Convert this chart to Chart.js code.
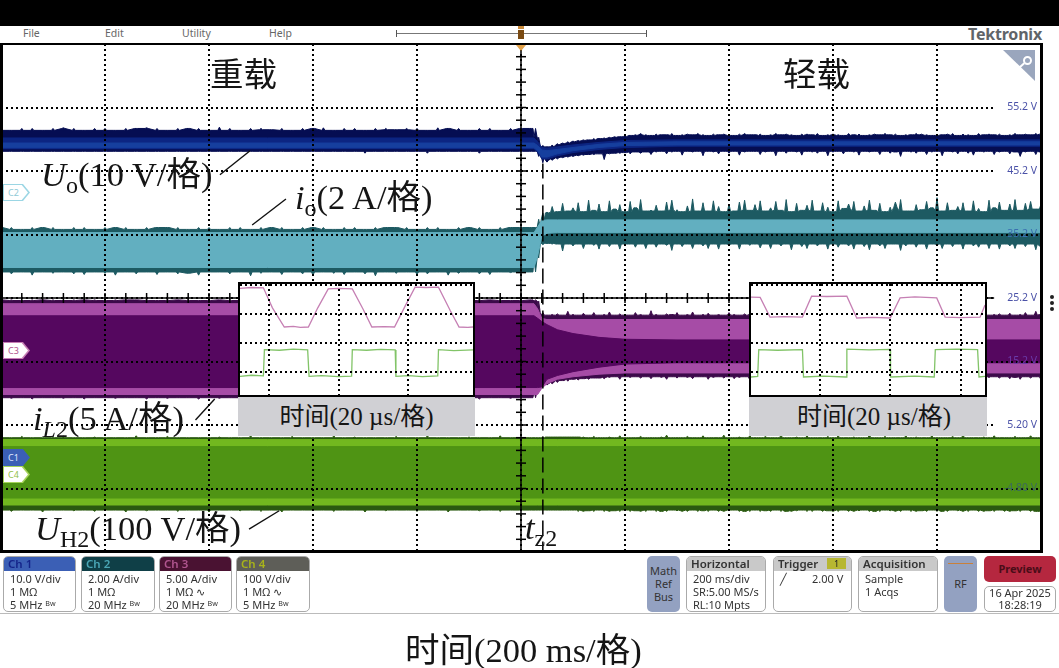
<!DOCTYPE html>
<html>
<head>
<meta charset="utf-8">
<script src="https://cdn.jsdelivr.net/npm/chart.js@4"></script>
<style>
html, body { margin: 0; padding: 0; background: #fff; }
#page { position: relative; width: 1059px; height: 668px; overflow: hidden; background: #fff; font-family: "Noto Sans", sans-serif; }
#page div, #page span.ann { position: absolute; box-sizing: border-box; }
#main { position: absolute; left: 0; top: 0; }
.menu { top: 27px; font-size: 10.5px; color: #666; line-height: 13px; }
.ann { font-family: "Liberation Serif", "Noto Sans CJK SC", serif; font-size: 34.5px; line-height: 1; color: #151515; white-space: pre; }
.ann i { font-style: italic; }
.ann sub { font-size: 24px; vertical-align: -7px; line-height: 0; }
.inset { background: #fff; border: 2px solid #000; }
.inset-label { background: #d0d0d4; text-align: center; font-family: "Liberation Serif", "Noto Sans CJK SC", serif; font-size: 25px; line-height: 39px; color: #151515; white-space: pre; }
.panel { top: 556px; height: 56px; border: 1px solid #aaa; border-radius: 5px; background: #fff; overflow: hidden; font-size: 11px; line-height: 13px; color: #333; }
.panel .head { left: 0; top: 0; right: 0; height: 14px; padding-left: 4px; font-weight: 600; font-size: 11.5px; line-height: 14px; white-space: nowrap; }
.panel .body { left: 6px; top: 15px; white-space: pre; }
.side { top: 556px; height: 56px; background: #93a1c1; border-radius: 5px; text-align: center; font-size: 11px; line-height: 13px; color: #333; }
.tag { width: 27px; height: 17px; left: 3px; clip-path: polygon(0 0, 74% 0, 100% 50%, 74% 100%, 0 100%); }
.tag span { position: absolute; left: 1px; top: 1px; width: 24px; height: 15px; clip-path: polygon(0 0, 74% 0, 100% 50%, 74% 100%, 0 100%); font-size: 9px; line-height: 15px; padding-left: 4px; box-sizing: border-box; }
</style>
</head>
<body>
<div id="page">
  <div style="left:0;top:0;width:1059px;height:26px;background:#000"></div>
  <div class="menu" style="left:23px">File</div>
  <div class="menu" style="left:105px">Edit</div>
  <div class="menu" style="left:182px">Utility</div>
  <div class="menu" style="left:269px">Help</div>
  <div style="left:396px;top:33px;width:251px;height:1px;background:#777"></div>
  <div style="left:396px;top:30px;width:1px;height:7px;background:#555"></div>
  <div style="left:646px;top:30px;width:1px;height:7px;background:#555"></div>
  <div style="left:518px;top:30px;width:6px;height:9px;background:#7a4a12"></div>
  <div style="left:518px;top:26px;width:6px;height:3px;background:#c98a3a"></div>
  <div style="left:968px;top:24px;font-size:16px;font-weight:700;color:#5f6468;line-height:20px;letter-spacing:-.2px">Tektronix</div>

  <canvas id="main" width="1059" height="668"></canvas>

  <div style="left:0;top:43px;width:1043px;height:510px;border:3px solid #000;border-top-width:2px"></div>
  <div style="left:516px;top:45px;width:10px;height:6px;background:#e2a24a;clip-path:polygon(0 0,100% 0,50% 100%)"></div>
  <div style="left:1003px;top:50px;width:32px;height:31px;background:#9aa6bd;clip-path:polygon(0 0,100% 0,100% 100%)"></div>
  <div style="left:1023px;top:56px;width:9px;height:9px;border:2px solid #fff;border-radius:50%"></div>
  <div style="left:1012px;top:67px;width:14px;height:2px;background:#fff;transform:rotate(-42deg)"></div>
  <div style="left:1050px;top:295px;width:4px;height:4px;background:#222;border-radius:50%"></div>
  <div style="left:1050px;top:301px;width:4px;height:4px;background:#222;border-radius:50%"></div>
  <div style="left:1050px;top:307px;width:4px;height:4px;background:#222;border-radius:50%"></div>

  <div class="tag" style="top:184px;background:#9bd6e4"><span style="background:#fff;color:#8fc9d6">C2</span></div>
  <div class="tag" style="top:342px;background:#c77fb5"><span style="background:#fff;color:#b0558f">C3</span></div>
  <div class="tag" style="top:449px;background:#3b5fb5"><span style="background:#3b5fb5;color:#dfe6ff">C1</span></div>
  <div class="tag" style="top:466px;background:#a5d35a"><span style="background:#fff;color:#93bf4a">C4</span></div>

  <div class="inset" style="left:238px;top:282px;width:237px;height:115px"><canvas id="inset1" width="233" height="111"></canvas></div>
  <div class="inset" style="left:749px;top:282px;width:238px;height:115px"><canvas id="inset2" width="234" height="111"></canvas></div>
  <div class="inset-label" style="left:238px;top:397px;width:237px;height:39px">时间(20 µs/格)</div>
  <div class="inset-label" style="left:749px;top:397px;width:238px;height:39px;padding-left:12px">时间(20 µs/格)</div>

  <span class="ann" style="left:210px;top:58px;font-size:33.5px">重载</span>
  <span class="ann" style="left:783px;top:58px;font-size:33.5px">轻载</span>
  <span class="ann" style="left:41px;top:157px"><i>U</i><sub>o</sub>(10 V/格)</span>
  <span class="ann" style="left:295px;top:180px"><i>i</i><sub>o</sub>(2 A/格)</span>
  <span class="ann" style="left:33px;top:401px"><i>i</i><sub><i>L</i>2</sub>(5 A/格)</span>
  <span class="ann" style="left:35px;top:511px"><i>U</i><sub>H2</sub>(100 V/格)</span>
  <span class="ann" style="left:525px;top:510px"><i>t</i><sub>z2</sub></span>
  <span class="ann" style="left:405px;top:633px">时间(200 ms/格)</span>

  <div class="panel" style="left:3px;width:73px"><div class="head" style="background:#3b5fb5;color:#14248a">Ch 1</div><div class="body">10.0 V/div
1 MΩ
5 MHz ᴮʷ</div></div>
  <div class="panel" style="left:81px;width:74px"><div class="head" style="background:#0f3f47;color:#4aa6b5">Ch 2</div><div class="body">2.00 A/div
1 MΩ
20 MHz ᴮʷ</div></div>
  <div class="panel" style="left:159px;width:73px"><div class="head" style="background:#4a1232;color:#b0558f">Ch 3</div><div class="body">5.00 A/div
1 MΩ ∿
20 MHz ᴮʷ</div></div>
  <div class="panel" style="left:236px;width:74px"><div class="head" style="background:#5e5e58;color:#a8b31a">Ch 4</div><div class="body">100 V/div
1 MΩ ∿
5 MHz ᴮʷ</div></div>

  <div class="side" style="left:647px;width:33px;padding-top:8px">Math<br>Ref<br>Bus</div>
  <div class="panel" style="left:686px;width:80px"><div class="head" style="background:#c9c9c9;color:#333">Horizontal</div><div class="body" style="left:6px">200 ms/div
SR:5.00 MS/s
RL:10 Mpts</div></div>
  <div class="panel" style="left:773px;width:79px"><div class="head" style="background:#c9c9c9;color:#333">Trigger</div><div style="left:53px;top:1px;width:19px;height:11px;background:#b7b732;text-align:center;font-size:9px;line-height:11px;color:#222">1</div><div class="body" style="left:6px">╱</div><div class="body" style="left:38px">2.00 V</div></div>
  <div class="panel" style="left:858px;width:80px"><div class="head" style="background:#c9c9c9;color:#333">Acquisition</div><div class="body" style="left:6px">Sample
1 Acqs</div></div>
  <div class="side" style="left:944px;width:33px;padding-top:21px">RF</div>
  <div style="left:948px;top:563px;width:25px;height:1px;background:#c9803a"></div>
  <div style="left:984px;top:556px;width:72px;height:26px;background:#b5273f;border-radius:5px;text-align:center;color:#4a0d18;font-size:11px;font-weight:700;line-height:26px">Preview</div>
  <div class="panel" style="left:984px;top:586px;width:72px;height:26px;text-align:center;line-height:12px">16 Apr 2025<br>18:28:19</div>
  <div style="left:0;top:613px;width:1059px;height:1px;background:#bbb"></div>
</div>

<script>
// time base of the traces, ms (200 ms/div, trigger at 0)
const heavyTime = [-1000,-980,-960,-940,-920,-900,-880,-860,-840,-820,
  -800,-780,-760,-740,-720,-700,-680,-660,-640,-620,
  -600,-580,-560,-540,-520,-500,-480,-460,-440,-420,
  -400,-380,-360,-340,-320,-300,-280,-260,-240,-220,
  -200,-180,-160,-140,-120,-100,-80,-60,-40,-20,
  0,20];
const stepTime = [28,34,42];
const lightTime = [50,60,70,80,90,100,110,120,130,140,
  150,160,170,180,190,200,210,220,230,240,
  250,260,270,280,290,300,310,320,330,340,
  350,360,370,380,390,400,410,420,430,440,
  450,460,470,480,490,500,510,520,530,540,
  550,560,570,580,590,600,610,620,630,640,
  650,660,670,680,690,700,710,720,730,740,
  750,760,770,780,790,800,810,820,830,840,
  850,860,870,880,890,900,910,920,930,940,
  950,960,970,980,990,1000];
const innerTime = [-1000,25,32,40,50,70,100,150,200,300,1000];

// outer envelopes, read on the 10 V/div scale
const uoTop = [51.9,51.6,51.9,51.9,51.6,51.9,52,51.9,51.6,51.9,
  51.9,51.6,51.9,51.9,52,51.9,51.6,51.9,51.9,51.9,
  51.6,52.1,51.9,51.6,51.9,51.9,51.7,51.9,51.6,51.9,
  51.9,52,51.6,51.9,51.9,51.6,51.9,51.9,51.7,51.9,
  51.9,51.6,52,51.9,51.9,51.6,51.9,51.9,51.6,51.9,
  51.9,51.9,
  51.9,50.5,49.2,
  49,49.3,49.5,49.6,49.8,49.9,50,50.1,50.1,50.3,
  50.3,50.4,50.5,50.6,50.6,50.9,50.8,50.9,51.1,50.9,
  50.8,51,50.9,50.9,51.1,50.8,50.9,51,50.9,51.1,
  50.9,50.8,51,50.9,51,50.9,50.8,51,51.1,50.9,
  50.9,51,50.8,50.9,51.1,50.9,51,50.9,50.8,51,
  51,50.9,51.1,50.8,50.9,51,50.9,50.8,51.1,50.9,
  51,50.8,50.9,51,50.9,51.1,50.9,51,50.8,50.9,
  50.9,51.1,51,50.9,50.8,51,50.9,51,51.1,50.8,
  51,50.9,50.8,51.1,50.9,51,50.9,51,50.8,50.9,
  51.1,50.9,51,50.9,51.1,51];
const uoBottom = [48.3,48.3,48.3,48.3,48.3,48.3,48.3,48.3,48.3,48.3,
  48.3,48.3,48.3,48.3,48.3,48.3,48.3,48.3,48.3,48.3,
  48.3,48.3,48.3,48.3,48.3,48.3,48.3,48.3,48.3,48.3,
  48.3,48.3,48.3,48.3,48.3,48,48.3,48.3,48.3,48.3,
  48.3,48,48.3,48.3,48.3,48.3,48,48.3,48.3,48.3,
  48.3,48.3,
  48.3,47.5,46.5,
  46.6,46.9,47.1,47.3,47.4,47.5,47.6,47.7,47.8,47.8,
  47.9,47,47.9,48,48,48.1,47.9,48.2,48,48.2,
  47.8,48.2,48.3,47.9,48.2,48.3,47.7,48.3,48.2,48.3,
  47.6,48.3,48.2,47.9,48.3,48,48.3,47.7,48.2,48.3,
  48.3,47.8,48.2,48.3,47.6,48.3,48,48.3,48.2,47.7,
  48.3,48.2,48,48.3,47.6,48.2,48.3,47.9,48.3,48.2,
  47.7,48.3,48.2,48.3,47.8,48.3,48,48.2,47.5,48.3,
  48.2,48,48.3,47.8,48.2,48.3,47.6,48.3,48.2,47.9,
  48.3,48,47.7,48.3,48.2,48.3,47.8,48.2,48.3,47.9,
  48.2,47.5,48.2,48.3,47.8,48.2];
const ioTop = [36.3,36.3,36,36.3,36.3,36.3,36,36.3,36.3,36,
  36.3,36.3,36.3,36,36.3,36.3,36.3,36.3,36,36.3,
  36.3,36,36.3,36.3,36,36.3,36.3,36.3,36,36.3,
  36.3,36.3,36,36.3,36.3,36,36.3,36.3,36.3,36.3,
  36,36.3,36.3,36,36.3,36.3,36.3,36,36.3,36.3,
  36.3,36.3,
  36.3,37.6,38.6,
  38.7,39.6,38.8,40.1,38.9,39.4,40.2,38.8,40.6,39,
  40,38.8,40.5,39.2,39.9,38.8,40.4,39.4,40.7,38.9,
  39,39.8,38.9,40.3,40.6,39.1,38.8,39.7,40.8,38.9,
  40.2,38.9,40.5,39.6,38.8,40,38.9,40.3,40.6,39,
  39.9,40.5,38.9,39.4,40.4,39,40.7,38.8,40.1,39,
  39.8,40.6,38.9,40.2,39.5,38.8,40.5,39.3,40,40.4,
  38.9,39.7,40.6,39,40.1,38.8,39.5,40.3,40.7,38.9,
  38.9,39.9,39.1,40.4,39.4,41,38.9,40.2,39,39.6,
  40.2,38.9,40.5,39.3,38.8,40.6,39.4,40.3,39,40,
  40.7,39,40.1,40.4,39.2,40];
const ioBottom = [29.3,29,29.3,28.8,29.3,29.1,29.3,29,28.9,29.3,
  29.1,28.8,29.3,29,29.3,28.9,29.3,29,29.1,28.8,
  29.3,29.3,29,29.3,28.7,29.1,29.3,28.9,29.3,29,
  28.8,29.3,29.1,28.9,29.3,29,28.7,29.3,29.1,29.3,
  28.9,29,29.3,28.8,29.1,29.3,29,28.9,29.3,29.2,
  29.1,29.3,
  29.3,31.5,33.6,
  33.8,33.7,33.7,32.6,33.7,33.4,33.7,33,33.7,33.5,
  32.9,33.7,33.3,33.7,32.9,33.7,33.7,33.2,33.7,33,
  33.7,33.2,33.7,33.5,32.7,33.7,33.3,33.7,33,33.7,
  33.4,33,33.7,32.9,33.7,33.4,33.7,32.9,33.7,33.5,
  33.7,33.1,33.7,33,33.7,33.4,33.7,32.8,33.7,33.3,
  33,33.7,33.4,33.7,32.9,33.7,33.2,33.7,33.4,32.9,
  33.7,33.3,32.8,33.7,33.4,33,33.7,33.7,32.7,33.4,
  33.7,33.2,33.7,32.9,33.7,33.4,33,33.7,33.3,33.7,
  32.9,33.7,33.4,33.2,33.7,33,33.7,32.9,33.7,33.4,
  33,33.7,33.3,33.7,32.8,33.4];
const ilTop = [24.9,24.9,24.8,24.9,24.9,24.9,24.8,24.9,24.9,24.9,
  24.8,24.9,24.9,24.9,24.9,24.8,24.9,24.9,24.9,24.8,
  24.9,24.9,24.9,24.8,24.9,24.9,24.9,24.9,24.8,24.9,
  24.9,24.8,24.9,24.9,24.9,24.9,24.8,24.9,24.9,24.9,
  24.8,24.9,24.9,24.9,24.9,24.8,24.9,24.9,24.9,24.8,
  24.9,24.9,
  24.9,24.7,22.9,
  22.5,22.6,22.7,22.5,23.1,22.6,22.5,22.8,22.5,22.9,
  22.5,22.6,23,22.5,22.7,22.6,22.5,22.9,22.6,22.5,
  23.2,22.6,22.5,22.7,22.6,22.9,22.5,22.6,23,22.5,
  22.6,22.8,22.5,22.6,22.5,22.9,22.6,22.5,22.7,22.8,
  22.5,22.6,22.9,22.5,22.6,22.5,22.8,22.5,22.9,22.6,
  22.5,22.7,22.6,22.5,22.8,22.6,22.5,22.9,22.5,22.6,
  22.7,22.5,23,22.6,22.5,22.6,22.8,22.5,22.6,22.9,
  22.5,22.6,22.7,22.5,22.9,22.6,22.5,22.7,23,22.5,
  22.6,22.8,22.5,22.6,22.9,22.5,22.6,22.7,22.5,22.8,
  22.5,22.6,22.9,22.5,23.1,22.6];
const ilBottom = [9.5,9.4,9.5,9.3,9.5,9.5,9.4,9.5,9.3,9.5,
  9.5,9.4,9.5,9.5,9.3,9.5,9.4,9.5,9.5,9.3,
  9.5,9.4,9.5,9.5,9.5,9.3,9.5,9.4,9.5,9.5,
  9.3,9.5,9.5,9.4,9.5,9.3,9.5,9.5,9.4,9.5,
  9.5,9.3,9.5,9.4,9.5,9.5,9.3,9.5,9.5,9.4,
  9.5,9.5,
  9.5,10.5,11.2,
  11.5,11.7,11.9,12.2,12.1,12.4,12.3,12.5,12.4,12.6,
  12.6,12.5,12.7,12.8,12.4,12.8,12.7,12.8,12.6,12.8,
  12.5,12.8,12.7,12.4,12.8,12.6,12.8,12.7,12.5,12.8,
  12.8,12.4,12.7,12.8,12.6,12.8,12.5,12.7,12.8,12.3,
  12.8,12.7,12.5,12.8,12.8,12.6,12.7,12.4,12.8,12.7,
  12.5,12.8,12.8,12.6,12.4,12.8,12.7,12.8,12.5,12.8,
  12.7,12.3,12.8,12.7,12.6,12.8,12.5,12.8,12.7,12.4,
  12.8,12.6,12.8,12.7,12.5,12.8,12.4,12.7,12.8,12.6,
  12.8,12.5,12.7,12.8,12.3,12.7,12.8,12.6,12.8,12.5,
  12.7,12.4,12.8,12.6,12.8,12.3];
const uhTop = [3.2,3.2,3.4,3.2,3.2,3.2,3.5,3.2,3.2,3.3,
  3.2,3.2,3.2,3.5,3.2,3.2,3.4,3.2,3.2,3.2,
  3.2,3.3,3.2,3.2,3.5,3.2,3.2,3.2,3.4,3.2,
  3.2,3.2,3.5,3.2,3.3,3.2,3.2,3.2,3.4,3.2,
  3.2,3.5,3.2,3.2,3.2,3.3,3.2,3.2,3.5,3.2,
  3.2,3.2,
  3.2,3.2,3.3,
  3.3,3.3,3.3,3.3,3.3,3.3,3.3,3.3,3.2,3.4,
  3.2,3.2,3.3,3.2,3.5,3.2,3.2,3.2,3.4,3.2,
  3.2,3.2,3.3,3.6,3.2,3.2,3.2,3.4,3.2,3.2,
  3.5,3.2,3.2,3.2,3.6,3.2,3.2,3.3,3.2,3.5,
  3.2,3.2,3.4,3.2,3.2,3.6,3.2,3.2,3.3,3.2,
  3.5,3.2,3.2,3.2,3.4,3.2,3.5,3.2,3.2,3.3,
  3.2,3.2,3.6,3.2,3.2,3.4,3.2,3.2,3.2,3.5,
  3.2,3.3,3.2,3.2,3.5,3.2,3.2,3.2,3.4,3.2,
  3.6,3.2,3.2,3.2,3.3,3.2,3.5,3.2,3.2,3.2,
  3.4,3.2,3.2,3.5,3.2,3.3];
const uhBottom = [-8.2,-8.4,-8.2,-8.2,-8.5,-8.2,-8.2,-8.3,-8.2,-8.4,
  -8.2,-8.2,-8.5,-8.2,-8.3,-8.2,-8.2,-8.4,-8.2,-8.2,
  -8.5,-8.2,-8.2,-8.3,-8.2,-8.4,-8.2,-8.5,-8.2,-8.2,
  -8.3,-8.2,-8.4,-8.2,-8.2,-8.5,-8.2,-8.3,-8.2,-8.2,
  -8.4,-8.2,-8.2,-8.5,-8.2,-8.2,-8.3,-8.2,-8.4,-8.2,
  -8.2,-8.2,
  -8.2,-8.2,-8.2,
  -8.2,-8.2,-8.2,-8.2,-8.2,-8.2,-8.4,-8.4,-8.3,-8.4,
  -8.2,-8.4,-8.4,-8.3,-8.4,-8.2,-8.4,-8.3,-8.4,-8.4,
  -8.2,-8.4,-8.4,-8.4,-8.2,-8.3,-8.4,-8.4,-8.2,-8.4,
  -8.3,-8.4,-8.2,-8.4,-8.4,-8.3,-8.2,-8.4,-8.4,-8.4,
  -8.2,-8.4,-8.3,-8.4,-8.2,-8.4,-8.4,-8.4,-8.3,-8.2,
  -8.4,-8.4,-8.2,-8.4,-8.3,-8.4,-8.4,-8.2,-8.4,-8.4,
  -8.3,-8.2,-8.4,-8.4,-8.4,-8.2,-8.3,-8.4,-8.4,-8.2,
  -8.4,-8.4,-8.3,-8.4,-8.2,-8.4,-8.4,-8.4,-8.2,-8.3,
  -8.4,-8.4,-8.2,-8.4,-8.4,-8.3,-8.4,-8.2,-8.4,-8.4,
  -8.3,-8.4,-8.2,-8.4,-8.4,-8.4];

// inner bands of the persistence display
const uoMidTop = [50.4,50.4,49.8,48.9,48.8,49,49.3,49.7,50,50.1,50.1];
const uoMidBottom = [48.7,48.7,48.2,47.1,47.1,47.6,48.1,48.6,48.9,49.1,49.1];
const uoInnerTop = [49.6,49.6,49.2,48.5,48.4,48.6,48.9,49.4,49.7,49.8,49.8];
const uoInnerBottom = [48.85,48.85,48.4,47.4,47.4,47.9,48.4,48.9,49.2,49.3,49.3];
const ioInnerTop = [35.5,35.5,36.4,37.4,37.5,37.5,37.5,37.5,37.5,37.5,37.5];
const ioInnerBottom = [30,30,31.8,34.9,35.4,35.5,35.5,35.5,35.5,35.5,35.5];
const ilMidTop = [24.3,24.3,23.5,22,21.8,21.8,21.8,21.8,21.8,21.8,21.8];
const ilMidBottom = [10,10,10,11,11.7,12.4,12.8,13.2,13.4,13.4,13.4];
const ilInnerTop = [22.4,22.4,22,21.5,21,20.2,19.6,19,18.7,18.6,18.6];
const ilInnerBottom = [11.1,11.1,11.1,11.2,12.4,13,13.6,14.3,14.8,15,15];
const uhMidTop = [2.9,2.9,2.9,2.9,2.9,2.9,2.9,2.9,2.9,2.9,2.9];
const uhMidBottom = [-7.4,-7.4,-7.4,-7.4,-7.4,-7.4,-7.4,-7.4,-7.4,-7.4,-7.4];
const uhInnerTop = [1.8,1.8,1.8,1.8,1.8,1.8,1.8,1.8,1.8,1.8,1.8];
const uhInnerBottom = [-6.3,-6.3,-6.3,-6.3,-6.3,-6.3,-6.3,-6.3,-6.3,-6.3,-6.3];

// center graticule and cursors
const xMarks = [-1000,-960,-920,-880,-840,-800,-760,-720,-680,-640,-600,-560,-520,-480,-440,-400,-360,-320,-280,-240,-200,-160,-120,-80,-40,0,
  40,80,120,160,200,240,280,320,360,400,440,480,520,560,600,640,680,720,760,800,840,880,920];
const yMarks = [65.2,63.2,61.2,59.2,57.2,55.2,53.2,51.2,49.2,47.2,45.2,43.2,41.2,39.2,37.2,35.2,33.2,31.2,29.2,27.2,25.2,
  23.2,21.2,19.2,17.2,15.2,13.2,11.2,9.2,7.2,5.2,3.2,1.2,-0.8,-2.8,-4.8,-6.8,-8.8,-10.8,-12.8,-14.8];
const tz2Time = [42,42];
const tz2Range = [46.4,-14.8];
const leaderTime = [[-579,-521],[-517,-452],[-626,-589],[-523,-465]];
const leaderValue = [[44.6,48.4],[36.7,40.8],[6,9.3],[-11.2,-8.3]];
const yTickLabels = ['','-4.80 V','5.20 V','15.2 V','25.2 V','35.2 V','45.2 V','55.2 V',''];
const yTickColors = ['#000','#3c6a5c','#4b52a8','#6a3aa8','#4b52a8','#3a6fb0','#4b52a8','#4b52a8','#000'];
const yTickBacks = ['rgba(0,0,0,0)','rgba(0,0,0,0)','#fff','rgba(0,0,0,0)','#fff','rgba(0,0,0,0)','#fff','#fff','rgba(0,0,0,0)'];

// zoomed windows, 20 us/div
const inset1PinkTime = [-8.3,-5,-1.6,1,4.4,7,9,11.3,14,17,20,23.9,27,29.5,33,36,39,41.9,45,48.6,52,54.5,57,58.5];
const inset1PinkValue = [2.87,2.9,2.89,2.2,1.54,1.56,1.53,1.54,2.2,2.85,2.87,2.85,2.15,1.54,1.55,1.54,2.25,2.91,2.9,2.91,2.1,1.54,1.53,1.54];
const inset1GreenTime = [-8.3,-5,-1.6,-1.3,3,7,11.1,11.5,15,20,23.7,23.9,28,32,36.2,36.4,40,44,48.4,48.6,53,58.5];
const inset1GreenValue = [-0.16,-0.12,-0.14,0.76,0.74,0.78,0.75,-0.16,-0.13,-0.17,-0.15,0.76,0.74,0.77,0.75,-0.16,-0.13,-0.17,-0.14,0.76,0.73,0.75];
const inset2PinkTime = [-19.5,-16.9,-14.1,-10,-4.9,-2.3,2,7.7,10.5,15,20,22.8,27,33.2,35.6,40,45.5,46.9];
const inset2PinkValue = [2.57,2.56,1.88,1.9,1.88,2.6,2.59,2.6,1.85,1.87,1.85,2.54,2.58,2.54,1.88,1.86,1.88,2.3];
const inset2GreenTime = [-19.5,-17.6,-17.3,-12,-4.9,-4.6,1,7.5,7.7,14,20,20.1,27,32.5,32.8,39,44.8,45.2,46.9];
const inset2GreenValue = [-0.18,-0.16,0.76,0.74,0.76,-0.18,-0.15,-0.18,0.78,0.75,0.77,-0.18,-0.15,-0.18,0.76,0.78,0.76,-0.18,-0.16];

const edgeTime = heavyTime.concat(stepTime, lightTime);

function points(times, values) {
    return times.map(function (t, i) { return { x: t, y: values[i] }; });
}

// each read sample is drawn as a narrow spike off its local envelope
function comb(times, values, dir) {
    const out = [];
    times.forEach(function (t, i) {
        const a = values[Math.max(i - 1, 0)];
        const b = values[Math.min(i + 1, values.length - 1)];
        const v = values[i];
        const base = dir > 0 ? Math.min(a, v, b) : Math.max(a, v, b);
        out.push({ x: t - 3, y: base }, { x: t, y: v }, { x: t + 3, y: base });
    });
    return out;
}

function band(name, upperPts, lowerPts, color) {
    return [
        { label: name + ' upper', data: upperPts, borderColor: color, backgroundColor: color, borderWidth: 1, pointRadius: 0, fill: '+1' },
        { label: name + ' lower', data: lowerPts, borderColor: color, backgroundColor: color, borderWidth: 1, pointRadius: 0, fill: false }
    ];
}

function innerBand(name, upper, lower, color) {
    return band(name, points(innerTime, upper), points(innerTime, lower), color);
}

function outerBand(name, upper, lower, color) {
    return band(name, comb(edgeTime, upper, 1), comb(edgeTime, lower, -1), color);
}

const datasets = [];

// center cross
datasets.push({
    label: 'center time', data: yMarks.map(function (v) { return { x: 0, y: v }; }),
    borderColor: '#000', borderWidth: 1.5, pointStyle: 'line', pointRadius: 5, pointBorderColor: '#000', pointBorderWidth: 1.5, fill: false
});
datasets.push({
    label: 'center level', data: xMarks.map(function (t) { return { x: t, y: 25.2 }; }),
    borderColor: '#000', borderWidth: 1.5, pointStyle: 'line', pointRotation: 90, pointRadius: 5, pointBorderColor: '#000', pointBorderWidth: 1.5, fill: false
});
datasets.push({
    label: 'tz2', data: points(tz2Time, tz2Range),
    borderColor: '#000', borderWidth: 1.5, borderDash: [15, 6], pointRadius: 0, fill: false
});
leaderTime.forEach(function (t, i) {
    datasets.push({ label: 'leader ' + i, data: points(t, leaderValue[i]), borderColor: '#111', borderWidth: 1.4, pointRadius: 0, fill: false });
});

// first listed is drawn on top, so inner bands come before the outer ones
datasets.push(...innerBand('Uo inner', uoInnerTop, uoInnerBottom, '#163f9e'));
datasets.push(...innerBand('Uo mid', uoMidTop, uoMidBottom, '#0c2582'));
datasets.push(...outerBand('Uo', uoTop, uoBottom, '#050d52'));
datasets.push(...innerBand('io inner', ioInnerTop, ioInnerBottom, '#62afc0'));
datasets.push(...outerBand('io', ioTop, ioBottom, '#1d5a62'));
datasets.push(...innerBand('iL2 inner', ilInnerTop, ilInnerBottom, '#55075f'));
datasets.push(...innerBand('iL2 mid', ilMidTop, ilMidBottom, '#a64ca6'));
datasets.push(...outerBand('iL2', ilTop, ilBottom, '#3c0a4a'));
datasets.push(...innerBand('UH2 inner', uhInnerTop, uhInnerBottom, '#4f9414'));
datasets.push(...innerBand('UH2 mid', uhMidTop, uhMidBottom, '#72b81f'));
datasets.push(...outerBand('UH2', uhTop, uhBottom, '#2a5a10'));

new Chart(document.getElementById('main').getContext('2d'), {
    type: 'line',
    data: { datasets: datasets },
    options: {
        responsive: false,
        animation: false,
        elements: { line: { tension: 0 } },
        layout: { autoPadding: false, padding: { left: 1, right: 18, top: 44, bottom: 116 } },
        plugins: { legend: { display: false }, tooltip: { enabled: false } },
        scales: {
            x: {
                type: 'linear', min: -1000, max: 1000,
                ticks: { display: false, stepSize: 200 },
                grid: { color: '#000', lineWidth: 2, drawTicks: false, z: 1 },
                border: { display: false, dash: [2, 3] }
            },
            y: {
                type: 'linear', position: 'right', min: -14.8, max: 65.2,
                afterFit: function (scale) { scale.width = 0; },
                ticks: {
                    stepSize: 10, mirror: true, padding: -4, z: 2,
                    font: { family: 'Noto Sans', size: 10.5 },
                    callback: function (v, i) { return yTickLabels[i]; },
                    color: function (c) { return yTickColors[c.index]; },
                    showLabelBackdrop: true,
                    backdropPadding: { left: 13, right: 3, top: 1, bottom: 1 },
                    backdropColor: function (c) { return yTickBacks[c.index]; }
                },
                grid: { color: '#000', lineWidth: 2, drawTicks: false, z: 1 },
                border: { display: false, dash: [2, 3] }
            }
        }
    }
});

function makeInset(id, tMin, tMax, pinkT, pinkV, greenT, greenV) {
    new Chart(document.getElementById(id).getContext('2d'), {
        type: 'line',
        data: {
            datasets: [
                { label: 'iL2', data: points(pinkT, pinkV), borderColor: '#c680b4', borderWidth: 1.3, pointRadius: 0 },
                { label: 'UH2', data: points(greenT, greenV), borderColor: '#82c468', borderWidth: 1.3, pointRadius: 0 }
            ]
        },
        options: {
            responsive: false,
            animation: false,
            layout: { autoPadding: false, padding: 0 },
            plugins: { legend: { display: false }, tooltip: { enabled: false } },
            scales: {
                x: {
                    type: 'linear', min: tMin, max: tMax,
                    ticks: { display: false, stepSize: 20, includeBounds: false },
                    grid: { color: '#000', lineWidth: 2, drawTicks: false, z: 1 },
                    border: { display: false, dash: [2, 3] }
                },
                y: {
                    type: 'linear', min: -0.8, max: 3.02,
                    ticks: { display: false, stepSize: 1, includeBounds: false },
                    grid: { color: '#000', lineWidth: 2, drawTicks: false, z: 1 },
                    border: { display: false, dash: [2, 3] }
                }
            }
        }
    });
}

makeInset('inset1', -8.3, 58.5, inset1PinkTime, inset1PinkValue, inset1GreenTime, inset1GreenValue);
makeInset('inset2', -19.5, 46.9, inset2PinkTime, inset2PinkValue, inset2GreenTime, inset2GreenValue);
</script>
</body>
</html>
